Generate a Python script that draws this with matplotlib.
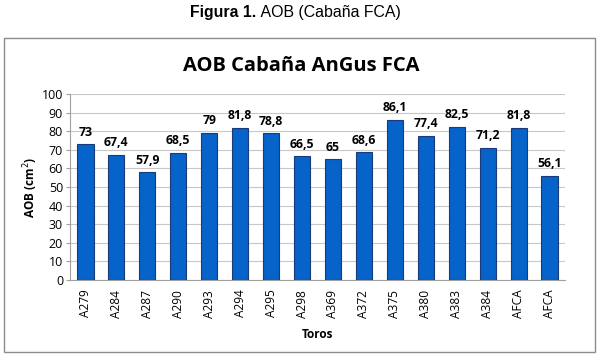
import matplotlib
matplotlib.use("Agg")
import matplotlib.pyplot as plt
from matplotlib.patches import Rectangle

categories = ["A279", "A284", "A287", "A290", "A293", "A294", "A295", "A298",
              "A369", "A372", "A375", "A380", "A383", "A384", "AFCA", "AFCA"]
values = [73, 67.4, 57.9, 68.5, 79, 81.8, 78.8, 66.5, 65, 68.6, 86.1, 77.4,
          82.5, 71.2, 81.8, 56.1]
yticks = list(range(0, 101, 10))

W, H = 599, 356
fig = plt.figure(figsize=(W / 100, H / 100), dpi=100)
fig.patch.set_facecolor("white")

# outer chart frame
fig.patches.append(Rectangle((4 / W, 4 / H), 591 / W, (352 - 38) / H,
                             transform=fig.transFigure, fill=False,
                             edgecolor="#8c8c8c", linewidth=1.0))

# figure caption
fig.text(256 / W, 1 - 13 / H, "Figura 1.", ha="right", va="center",
         fontsize=11.4, fontweight="bold", family="Liberation Sans")
fig.text(257 / W, 1 - 13 / H, " AOB (Cabaña FCA)", ha="left", va="center",
         fontsize=11.4, family="Liberation Sans")

fig.text(301 / W, 1 - 66 / H, "AOB Cabaña AnGus FCA", ha="center", va="center",
         fontsize=14.5, fontweight="bold", family="Open Sans")

ax = fig.add_axes([70 / W, 1 - 280 / H, 495 / W, (280 - 94) / H])
x = list(range(len(categories)))
ax.bar(x, values, width=0.52, color="#0563c9", edgecolor="#1a3a7a",
       linewidth=0.8, zorder=3)
for xi, v in zip(x, values):
    lbl = f"{v:g}".replace(".", ",")
    ax.text(xi, v + 3, lbl, ha="center", va="bottom", fontsize=8.8,
            fontweight="bold", family="Open Sans")

ax.set_xlim(-0.5, len(categories) - 0.5)
ax.set_ylim(0, 100)
ax.set_yticks(yticks)
ax.set_yticklabels([str(t) for t in yticks], fontsize=9, family="Open Sans")
ax.set_xticks(x)
ax.set_xticklabels(categories, rotation=90, fontsize=8.6, family="Open Sans")
ax.grid(axis="y", color="#c8c8c8", linewidth=0.8, zorder=0)
for s in ["top", "right"]:
    ax.spines[s].set_visible(False)
ax.spines["left"].set_color("#a0a0a0")
ax.spines["bottom"].set_color("#a0a0a0")
ax.tick_params(axis="y", length=3, color="#a0a0a0", pad=2)
ax.tick_params(axis="x", length=0, pad=7)
ax.set_ylabel("AOB (cm$^2$)", fontsize=8.5, fontweight="bold", family="Open Sans",
              labelpad=1)
ax.set_xlabel("Toros", fontsize=8.5, fontweight="bold", family="Open Sans",
              labelpad=7)

fig.savefig("out.png", dpi=100)
